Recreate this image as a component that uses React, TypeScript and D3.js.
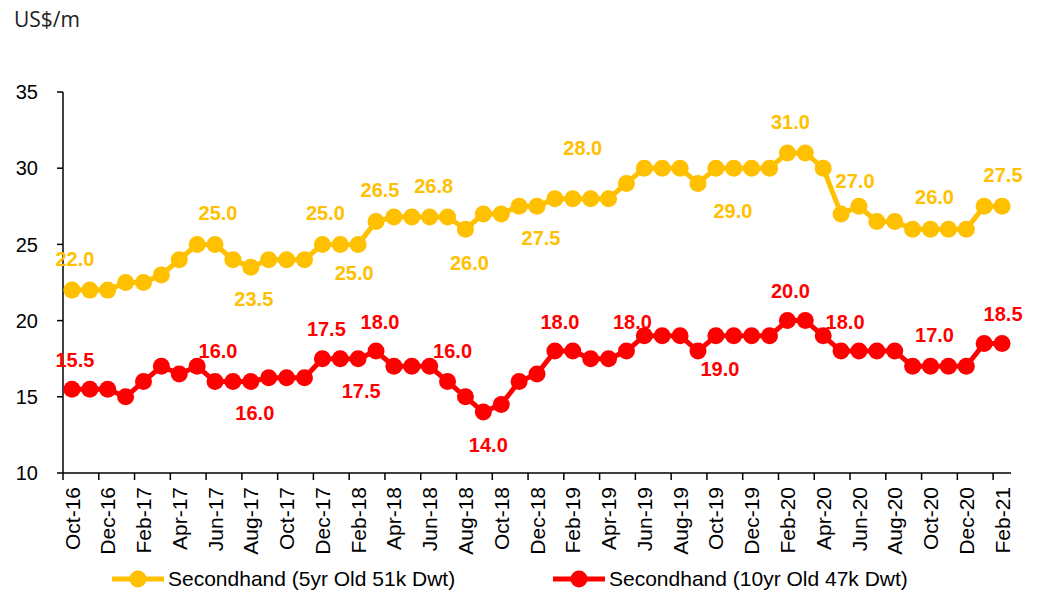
import React, { useEffect, useRef } from 'react';
import * as d3 from 'd3';

// monthly categories Oct-16 .. Feb-21
const months = [
  'Oct-16', 'Nov-16', 'Dec-16',
  'Jan-17', 'Feb-17', 'Mar-17', 'Apr-17', 'May-17', 'Jun-17', 'Jul-17', 'Aug-17', 'Sep-17', 'Oct-17', 'Nov-17', 'Dec-17',
  'Jan-18', 'Feb-18', 'Mar-18', 'Apr-18', 'May-18', 'Jun-18', 'Jul-18', 'Aug-18', 'Sep-18', 'Oct-18', 'Nov-18', 'Dec-18',
  'Jan-19', 'Feb-19', 'Mar-19', 'Apr-19', 'May-19', 'Jun-19', 'Jul-19', 'Aug-19', 'Sep-19', 'Oct-19', 'Nov-19', 'Dec-19',
  'Jan-20', 'Feb-20', 'Mar-20', 'Apr-20', 'May-20', 'Jun-20', 'Jul-20', 'Aug-20', 'Sep-20', 'Oct-20', 'Nov-20', 'Dec-20',
  'Jan-21', 'Feb-21',
];

const fiveYrOld = [
  22, 22, 22, 22.5, 22.5, 23, 24, 25, 25, 24, 23.5, 24, 24, 24, 25, 25, 25,
  26.5, 26.8, 26.8, 26.8, 26.8, 26, 27, 27, 27.5, 27.5, 28, 28, 28, 28, 29,
  30, 30, 30, 29, 30, 30, 30, 30, 31, 31, 30, 27, 27.5, 26.5, 26.5, 26, 26,
  26, 26, 27.5, 27.5,
];

const tenYrOld = [
  15.5, 15.5, 15.5, 15, 16, 17, 16.5, 17, 16, 16, 16, 16.25, 16.25, 16.25, 17.5, 17.5, 17.5,
  18, 17, 17, 17, 16, 15, 14, 14.5, 16, 16.5, 18, 18, 17.5, 17.5, 18,
  19, 19, 19, 18, 19, 19, 19, 19, 20, 20, 19, 18, 18, 18, 18, 17, 17,
  17, 17, 18.5, 18.5,
];

const yTicks = [10, 15, 20, 25, 30, 35];
const seriesNames = ['Secondhand (5yr Old 51k Dwt)', 'Secondhand (10yr Old 47k Dwt)'];

// which points carry a data label
const fiveYrLabelIdx = [0, 8, 10, 14, 16, 17, 20, 22, 26, 28, 35, 40, 43, 48, 52];
const tenYrLabelIdx = [0, 8, 10, 14, 16, 17, 21, 23, 27, 31, 36, 40, 43, 48, 52];

// label placement (dx, baseline dy) relative to the point
const fiveYrLabelPos: Record<number, [number, number]> = {
  0: [3, -24], 8: [3, -24], 10: [3, 39], 14: [3, -24], 16: [-4, 36], 17: [4, -25],
  20: [4, -24], 22: [4, 41], 26: [4, 39], 28: [10, -44], 35: [35, 35], 40: [3, -24],
  43: [14, -26], 48: [4, -25], 52: [1, -24],
};
const tenYrLabelPos: Record<number, [number, number]> = {
  0: [3, -22], 8: [3, -24], 10: [4, 38], 14: [4, -23], 16: [3, 39], 17: [4, -22],
  21: [5, -24], 23: [5, 40], 27: [5, -22], 31: [6, -22], 36: [4, 40], 40: [3, -23],
  43: [4, -22], 48: [4, -24], 52: [1, -22],
};

const YELLOW = '#FFC000';
const RED = '#FF0000';

const App = () => {
  const svgRef = useRef<SVGSVGElement>(null);

  useEffect(() => {
    if (!svgRef.current) return;
    const W = 1042;
    const H = 593;
    const left = 63, right = 1011, top = 92, bottom = 473;
    const font = 'Arial, "Liberation Sans", sans-serif';

    const svg = d3.select(svgRef.current);
    svg.selectAll('*').remove();
    svg.attr('width', W).attr('height', H);

    const x = d3.scaleBand<number>()
      .domain(months.map((_, i) => i))
      .range([left, right])
      .padding(0);
    const cx = (i: number) => (x(i) as number) + x.bandwidth() / 2;

    const y = d3.scaleLinear().domain([10, 35]).range([bottom, top]);

    // unit label
    svg.append('text')
      .attr('x', 14).attr('y', 27)
      .attr('font-family', '"Open Sans", "Noto Sans", sans-serif')
      .attr('font-size', 21)
      .attr('fill', '#222')
      .text('US$/m');

    // y axis
    const yAxis = svg.append('g');
    yAxis.append('line')
      .attr('x1', left).attr('x2', left)
      .attr('y1', top).attr('y2', bottom)
      .attr('stroke', '#000').attr('stroke-width', 1.5);
    yTicks.forEach((t) => {
      yAxis.append('line')
        .attr('x1', left - 6).attr('x2', left)
        .attr('y1', y(t)).attr('y2', y(t))
        .attr('stroke', '#000').attr('stroke-width', 1.5);
      yAxis.append('text')
        .attr('x', 38).attr('y', y(t))
        .attr('dy', '0.36em')
        .attr('text-anchor', 'end')
        .attr('font-family', font)
        .attr('font-size', 20)
        .attr('fill', '#000')
        .text(t);
    });

    // x axis
    const xAxis = svg.append('g');
    xAxis.append('line')
      .attr('x1', left).attr('x2', right)
      .attr('y1', bottom).attr('y2', bottom)
      .attr('stroke', '#000').attr('stroke-width', 1.5);
    months.forEach((m, i) => {
      if (i % 2 !== 0) return;
      const tx = x(i) as number;
      xAxis.append('line')
        .attr('x1', tx).attr('x2', tx)
        .attr('y1', bottom).attr('y2', bottom + 7)
        .attr('stroke', '#000').attr('stroke-width', 1.5);
      xAxis.append('text')
        .attr('transform', `translate(${cx(i)},${bottom + 14}) rotate(-90)`)
        .attr('dy', '0.36em')
        .attr('text-anchor', 'end')
        .attr('font-family', font)
        .attr('font-size', 21)
        .attr('fill', '#000')
        .text(m);
    });

    const line = d3.line<number>()
      .x((_, i) => cx(i))
      .y((d) => y(d));

    const drawSeries = (
      values: number[], color: string, labelIdx: number[], pos: Record<number, [number, number]>,
    ) => {
      const g = svg.append('g');
      g.append('path')
        .datum(values)
        .attr('d', line)
        .attr('fill', 'none')
        .attr('stroke', color)
        .attr('stroke-width', 5)
        .attr('stroke-linejoin', 'round');
      g.selectAll('circle')
        .data(values)
        .enter()
        .append('circle')
        .attr('cx', (_, i) => cx(i))
        .attr('cy', (d) => y(d))
        .attr('r', 8.5)
        .attr('fill', color);
      g.selectAll('.label')
        .data(labelIdx)
        .enter()
        .append('text')
        .attr('class', 'label')
        .attr('x', (i) => cx(i) + pos[i][0])
        .attr('y', (i) => y(values[i]) + pos[i][1])
        .attr('text-anchor', 'middle')
        .attr('font-family', font)
        .attr('font-size', 20)
        .attr('font-weight', 'bold')
        .attr('fill', color)
        .text((i) => values[i].toFixed(1));
    };

    drawSeries(fiveYrOld, YELLOW, fiveYrLabelIdx, fiveYrLabelPos);
    drawSeries(tenYrOld, RED, tenYrLabelIdx, tenYrLabelPos);

    // legend
    const legend = svg.append('g');
    const legendItems = [
      { name: seriesNames[0], color: YELLOW, x0: 112 },
      { name: seriesNames[1], color: RED, x0: 553 },
    ];
    legendItems.forEach((it) => {
      const ly = 579;
      legend.append('line')
        .attr('x1', it.x0).attr('x2', it.x0 + 52)
        .attr('y1', ly).attr('y2', ly)
        .attr('stroke', it.color).attr('stroke-width', 5);
      legend.append('circle')
        .attr('cx', it.x0 + 26).attr('cy', ly)
        .attr('r', 8.5).attr('fill', it.color);
      legend.append('text')
        .attr('x', it.x0 + 56).attr('y', ly)
        .attr('dy', '0.34em')
        .attr('font-family', font)
        .attr('font-size', 21)
        .attr('fill', '#000')
        .text(it.name);
    });
  }, []);

  return (
    <svg ref={svgRef} style={{ position: 'absolute', left: 0, top: 0, background: '#fff' }} />
  );
};

export default App;
